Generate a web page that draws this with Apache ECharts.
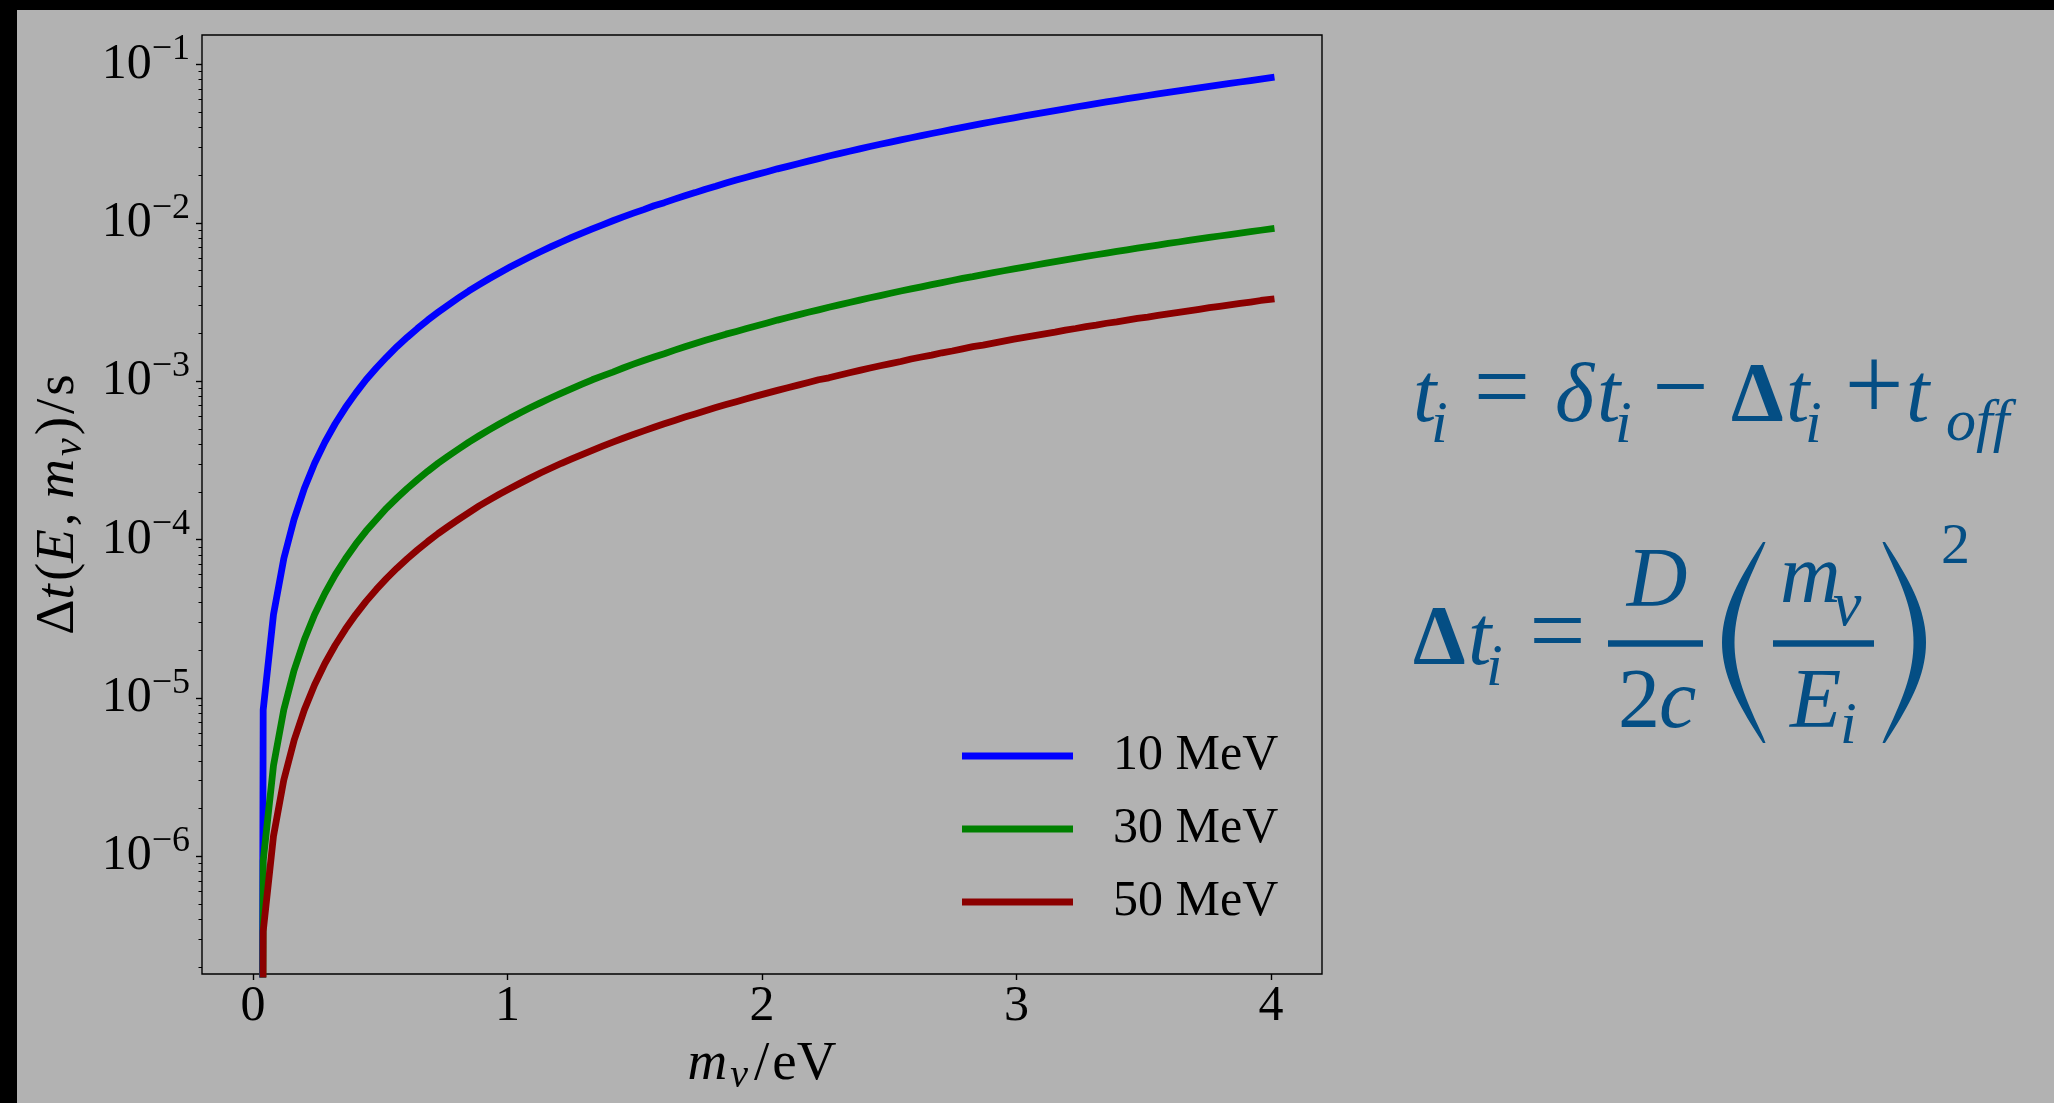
<!DOCTYPE html>
<html>
<head>
<meta charset="utf-8">
<script src="https://cdn.jsdelivr.net/npm/echarts@6.0.0/dist/echarts.min.js"></script>
<style>
  html, body { margin: 0; padding: 0; background: #b2b2b2; }
  #chart { width: 2054px; height: 1103px; }
</style>
</head>
<body>
<div id="chart"></div>
<script>
// Neutrino mass (eV) sampled from 0 to 4
const massEV = [
  0, 0.0404, 0.0808, 0.1212, 0.1616, 0.2020, 0.2424, 0.2828, 0.3232, 0.3636, 0.4040,
  0.4444, 0.4848, 0.5253, 0.5657, 0.6061, 0.6465, 0.6869, 0.7273, 0.7677, 0.8081,
  0.8485, 0.8889, 0.9293, 0.9697, 1.0101, 1.0505, 1.0909, 1.1313, 1.1717, 1.2121,
  1.2525, 1.2929, 1.3333, 1.3737, 1.4141, 1.4545, 1.4949, 1.5354, 1.5758, 1.6162,
  1.6566, 1.6970, 1.7374, 1.7778, 1.8182, 1.8586, 1.8990, 1.9394, 1.9798, 2.0202,
  2.0606, 2.1010, 2.1414, 2.1818, 2.2222, 2.2626, 2.3030, 2.3434, 2.3838, 2.4242,
  2.4646, 2.5051, 2.5455, 2.5859, 2.6263, 2.6667, 2.7071, 2.7475, 2.7879, 2.8283,
  2.8687, 2.9091, 2.9495, 2.9899, 3.0303, 3.0707, 3.1111, 3.1515, 3.1919, 3.2323,
  3.2727, 3.3131, 3.3535, 3.3939, 3.4343, 3.4747, 3.5152, 3.5556, 3.5960, 3.6364,
  3.6768, 3.7172, 3.7576, 3.7980, 3.8384, 3.8788, 3.9192, 3.9596, 4.0000
];

// Time delay Δt (s) for E = 10 MeV
const dt10MeV = [
  0, 8.40e-6, 3.36e-5, 7.56e-5, 1.34e-4, 2.10e-4, 3.03e-4, 4.12e-4, 5.38e-4, 6.81e-4, 8.40e-4,
  1.02e-3, 1.21e-3, 1.42e-3, 1.65e-3, 1.89e-3, 2.15e-3, 2.43e-3, 2.72e-3, 3.03e-3, 3.36e-3,
  3.71e-3, 4.07e-3, 4.45e-3, 4.84e-3, 5.25e-3, 5.68e-3, 6.13e-3, 6.59e-3, 7.07e-3, 7.56e-3,
  8.08e-3, 8.60e-3, 9.15e-3, 9.71e-3, 1.03e-2, 1.09e-2, 1.15e-2, 1.21e-2, 1.28e-2, 1.34e-2,
  1.41e-2, 1.48e-2, 1.55e-2, 1.63e-2, 1.70e-2, 1.78e-2, 1.86e-2, 1.94e-2, 2.02e-2, 2.10e-2,
  2.19e-2, 2.27e-2, 2.36e-2, 2.45e-2, 2.54e-2, 2.64e-2, 2.73e-2, 2.83e-2, 2.93e-2, 3.03e-2,
  3.13e-2, 3.23e-2, 3.34e-2, 3.44e-2, 3.55e-2, 3.66e-2, 3.77e-2, 3.89e-2, 4.00e-2, 4.12e-2,
  4.24e-2, 4.36e-2, 4.48e-2, 4.60e-2, 4.73e-2, 4.85e-2, 4.98e-2, 5.11e-2, 5.24e-2, 5.38e-2,
  5.51e-2, 5.65e-2, 5.79e-2, 5.93e-2, 6.07e-2, 6.21e-2, 6.36e-2, 6.51e-2, 6.66e-2, 6.81e-2,
  6.96e-2, 7.11e-2, 7.27e-2, 7.42e-2, 7.58e-2, 7.74e-2, 7.91e-2, 8.07e-2, 8.24e-2
];

// Time delay Δt (s) for E = 30 MeV
const dt30MeV = [
  0, 9.34e-7, 3.73e-6, 8.40e-6, 1.49e-5, 2.33e-5, 3.36e-5, 4.57e-5, 5.98e-5, 7.56e-5, 9.34e-5,
  1.13e-4, 1.34e-4, 1.58e-4, 1.83e-4, 2.10e-4, 2.39e-4, 2.70e-4, 3.03e-4, 3.37e-4, 3.73e-4,
  4.12e-4, 4.52e-4, 4.94e-4, 5.38e-4, 5.84e-4, 6.31e-4, 6.81e-4, 7.32e-4, 7.85e-4, 8.40e-4,
  8.97e-4, 9.56e-4, 1.02e-3, 1.08e-3, 1.14e-3, 1.21e-3, 1.28e-3, 1.35e-3, 1.42e-3, 1.49e-3,
  1.57e-3, 1.65e-3, 1.73e-3, 1.81e-3, 1.89e-3, 1.98e-3, 2.06e-3, 2.15e-3, 2.24e-3, 2.33e-3,
  2.43e-3, 2.52e-3, 2.62e-3, 2.72e-3, 2.82e-3, 2.93e-3, 3.03e-3, 3.14e-3, 3.25e-3, 3.36e-3,
  3.47e-3, 3.59e-3, 3.71e-3, 3.82e-3, 3.94e-3, 4.07e-3, 4.19e-3, 4.32e-3, 4.45e-3, 4.57e-3,
  4.71e-3, 4.84e-3, 4.98e-3, 5.11e-3, 5.25e-3, 5.39e-3, 5.54e-3, 5.68e-3, 5.83e-3, 5.98e-3,
  6.13e-3, 6.28e-3, 6.43e-3, 6.59e-3, 6.75e-3, 6.91e-3, 7.07e-3, 7.23e-3, 7.40e-3, 7.56e-3,
  7.73e-3, 7.90e-3, 8.08e-3, 8.25e-3, 8.43e-3, 8.60e-3, 8.78e-3, 8.97e-3, 9.15e-3
];

// Time delay Δt (s) for E = 50 MeV
const dt50MeV = [
  0, 3.36e-7, 1.34e-6, 3.03e-6, 5.38e-6, 8.40e-6, 1.21e-5, 1.65e-5, 2.15e-5, 2.72e-5, 3.36e-5,
  4.07e-5, 4.84e-5, 5.68e-5, 6.59e-5, 7.56e-5, 8.60e-5, 9.71e-5, 1.09e-4, 1.21e-4, 1.34e-4,
  1.48e-4, 1.63e-4, 1.78e-4, 1.94e-4, 2.10e-4, 2.27e-4, 2.45e-4, 2.64e-4, 2.83e-4, 3.03e-4,
  3.23e-4, 3.44e-4, 3.66e-4, 3.89e-4, 4.12e-4, 4.36e-4, 4.60e-4, 4.85e-4, 5.11e-4, 5.38e-4,
  5.65e-4, 5.93e-4, 6.21e-4, 6.51e-4, 6.81e-4, 7.11e-4, 7.42e-4, 7.74e-4, 8.07e-4, 8.40e-4,
  8.74e-4, 9.09e-4, 9.44e-4, 9.80e-4, 1.02e-3, 1.05e-3, 1.09e-3, 1.13e-3, 1.17e-3, 1.21e-3,
  1.25e-3, 1.29e-3, 1.33e-3, 1.38e-3, 1.42e-3, 1.46e-3, 1.51e-3, 1.55e-3, 1.60e-3, 1.65e-3,
  1.69e-3, 1.74e-3, 1.79e-3, 1.84e-3, 1.89e-3, 1.94e-3, 1.99e-3, 2.04e-3, 2.10e-3, 2.15e-3,
  2.21e-3, 2.26e-3, 2.32e-3, 2.37e-3, 2.43e-3, 2.49e-3, 2.54e-3, 2.60e-3, 2.66e-3, 2.72e-3,
  2.78e-3, 2.84e-3, 2.91e-3, 2.97e-3, 3.03e-3, 3.10e-3, 3.16e-3, 3.23e-3, 3.29e-3
];

const seriesNames = ['10 MeV', '30 MeV', '50 MeV'];
const seriesValues = [dt10MeV, dt30MeV, dt50MeV];
const seriesColors = ['#0000ff', '#008000', '#8b0000'];

const xTicks = [0, 1, 2, 3, 4];
const yMajorTicks = [1e-6, 1e-5, 1e-4, 1e-3, 1e-2, 1e-1];
const yMinorMultipliers = [2, 3, 4, 5, 6, 7, 8, 9];
const yMinorDecades = [1e-7, 1e-6, 1e-5, 1e-4, 1e-3, 1e-2, 1e-1];

const X_MIN = -0.2, X_MAX = 4.2;
const Y_MIN = 1.806e-7, Y_MAX = 0.1533;

const yMinorTicks = [];
yMinorDecades.forEach(d => yMinorMultipliers.forEach(m => yMinorTicks.push(m * d)));

// non-positive values are pushed far below the axis, as a log plot clips them
const LOG_FLOOR = 1e-30;
const toLog = v => (v > 0 ? v : LOG_FLOOR);

const SERIF = 'Liberation Serif';
const INK = '#000';
const EQ = '#044e84';

const chart = echarts.init(document.getElementById('chart'), null, { renderer: 'canvas' });

// ---- equation helpers (annotation on the right) ----
const MID = 0.26; // baseline offset of a 'middle'-aligned line, as a share of font size
function eqText(str, x, baseline, size, opt) {
  opt = opt || {};
  const font = (opt.italic ? 'italic ' : 'normal ') + (opt.bold ? 'bold ' : 'normal ') + size + 'px "' + SERIF + '"';
  return {
    type: 'text', x: x, y: baseline - MID * size, z: 100, silent: true,
    style: {
      text: str, font: font, fill: EQ,
      align: opt.align || 'left', verticalAlign: 'middle',
      textAlign: opt.align || 'left', textVerticalAlign: 'middle'
    }
  };
}
function eqOp(str, cx, cy, size) {
  return {
    type: 'text', x: cx, y: cy - 0.05 * size, z: 100, silent: true,
    style: {
      text: str, font: 'normal normal ' + size + 'px "' + SERIF + '"', fill: EQ,
      align: 'center', verticalAlign: 'middle', textAlign: 'center', textVerticalAlign: 'middle'
    }
  };
}
function eqBar(x1, x2, cy, th) {
  return { type: 'rect', z: 100, silent: true, shape: { x: x1, y: cy - th / 2, width: x2 - x1, height: th }, style: { fill: EQ } };
}
// a tall parenthesis as a crescent; dir = -1 bulges left "(", +1 bulges right ")"
function eqParen(tipX, top, bottom, bulge, dir) {
  const pts = [];
  const n = 40;
  const h = bottom - top;
  for (let i = 0; i <= n; i++) {
    const t = i / n, s = Math.sin(Math.PI * t);
    pts.push([tipX + dir * bulge * s, top + h * t]);
  }
  for (let i = n; i >= 0; i--) {
    const t = i / n, s = Math.sin(Math.PI * t);
    const th = 2.5 + 10 * Math.pow(s, 0.8);
    pts.push([tipX + dir * (bulge * s - th), top + h * t]);
  }
  return { type: 'polygon', z: 100, silent: true, shape: { points: pts }, style: { fill: EQ } };
}

const F = 84, FS = 60;
const equation = [
  // t_i = δt_i − Δt_i + t_off
  eqText('t', 1413, 421, F, { italic: true }),
  eqText('i', 1431, 442, FS, { italic: true }),
  eqOp('=', 1502, 398.5, 100),
  eqText('δ', 1555, 421, F, { italic: true }),
  eqText('t', 1597, 421, F, { italic: true }),
  eqText('i', 1615, 442, FS, { italic: true }),
  eqOp('−', 1680.5, 399, 100),
  eqText('Δ', 1731, 421, F, { bold: true }),
  eqText('t', 1786, 421, F, { italic: true }),
  eqText('i', 1805, 442, FS, { italic: true }),
  eqOp('+', 1874, 398, 105),
  eqText('t', 1906, 421, F, { italic: true }),
  eqText('off', 1946, 440, FS, { italic: true }),

  // Δt_i = D/2c (m_ν / E_i)^2
  eqText('Δ', 1413, 664, F, { bold: true }),
  eqText('t', 1468, 664, F, { italic: true }),
  eqText('i', 1486, 685, FS, { italic: true }),
  eqOp('=', 1557.5, 643, 100),
  eqText('D', 1657, 606, F, { italic: true, align: 'center' }),
  eqBar(1608, 1703, 643.5, 6.5),
  eqText('2', 1618, 727, F),
  eqText('c', 1659, 727, F, { italic: true }),
  eqParen(1763, 542, 743, 41, -1),
  eqText('m', 1780, 602, F, { italic: true }),
  eqText('ν', 1833, 625, 64, { italic: true }),
  eqBar(1773, 1874, 643.5, 6.5),
  eqText('E', 1790, 727, F, { italic: true }),
  eqText('i', 1840, 743, FS, { italic: true }),
  eqParen(1885, 542, 743, 41, 1),
  eqText('2', 1941, 563, 58)
];

const frame = [
  { type: 'rect', z: 200, silent: true, shape: { x: 0, y: 0, width: 2054, height: 10 }, style: { fill: '#000' } },
  { type: 'rect', z: 200, silent: true, shape: { x: 0, y: 0, width: 17, height: 1103 }, style: { fill: '#000' } }
];

const labelRich = {
  b: { fontSize: 50, fontFamily: SERIF, color: INK },
  s: { fontSize: 36, fontFamily: SERIF, color: INK, padding: [0, 0, 29, 0] }
};

const NAME_F = 55;
const nameRich = {
  up: { fontSize: NAME_F, fontFamily: SERIF, color: INK },
  upw: { fontSize: NAME_F, fontFamily: SERIF, color: INK, padding: [0, 3, 0, 3] },
  it: { fontSize: NAME_F, fontFamily: SERIF, color: INK, fontStyle: 'italic', padding: [0, 3, 0, 0] },
  sub: { fontSize: 40, fontFamily: SERIF, color: INK, fontStyle: 'italic', padding: [24, 3, 0, 0] }
};

const option = {
  animation: false,
  backgroundColor: '#b2b2b2',
  grid: {
    left: 202, top: 35, width: 1120, height: 939,
    show: true, borderColor: '#000', borderWidth: 1.4, backgroundColor: 'transparent'
  },
  xAxis: {
    type: 'value', min: X_MIN, max: X_MAX,
    axisLine: { show: false, onZero: false },
    splitLine: { show: false },
    axisTick: { show: true, customValues: xTicks, length: 6, lineStyle: { color: INK, width: 1.4 } },
    axisLabel: { customValues: xTicks, margin: 8, fontSize: 50, fontFamily: SERIF, color: INK },
    name: '{it|m}{sub|ν}{upw|/}{up|eV}',
    nameLocation: 'middle', nameGap: 56,
    nameTextStyle: { fontSize: NAME_F, fontFamily: SERIF, color: INK, rich: nameRich }
  },
  yAxis: [
    {
      type: 'log', logBase: 10, min: Y_MIN, max: Y_MAX,
      axisLine: { show: false, onZero: false },
      splitLine: { show: false },
      axisTick: { show: true, customValues: yMajorTicks, length: 6, lineStyle: { color: INK, width: 1.4 } },
      axisLabel: {
        customValues: yMajorTicks, margin: 12,
        formatter: v => '{b|10}{s|−' + (-Math.round(Math.log10(v))) + '}',
        rich: labelRich
      },
      name: '{up|Δ}{it|t}{up|(}{it|E}{up|, }{it|m}{sub|ν}{up|)}{upw|/}{up|s}',
      nameLocation: 'middle', nameGap: 108, nameRotate: 90,
      nameTextStyle: { fontSize: NAME_F, fontFamily: SERIF, color: INK, rich: nameRich }
    },
    {
      type: 'log', logBase: 10, min: Y_MIN, max: Y_MAX, position: 'left', offset: 0,
      axisLine: { show: false, onZero: false },
      splitLine: { show: false },
      axisLabel: { show: false },
      axisTick: { show: true, customValues: yMinorTicks, length: 3.5, lineStyle: { color: INK, width: 1 } }
    }
  ],
  legend: {
    orient: 'vertical', left: 962, top: 731, padding: 0,
    itemWidth: 111, itemHeight: 7, itemGap: 23, icon: 'rect',
    selectedMode: false,
    textStyle: { fontSize: 50, fontFamily: SERIF, color: INK, lineHeight: 50, padding: [0, 0, 0, 35] },
    data: seriesNames
  },
  series: seriesNames.map((name, i) => ({
    name: name,
    type: 'line',
    xAxisIndex: 0, yAxisIndex: 0,
    data: massEV.map((m, k) => [m, toLog(seriesValues[i][k])]),
    showSymbol: false, symbol: 'none',
    clip: true, z: 2 + i,
    color: seriesColors[i],
    lineStyle: { color: seriesColors[i], width: 6.8, cap: 'square', join: 'round' },
    emphasis: { disabled: true }
  })),
  graphic: { elements: frame.concat(equation) }
};

chart.setOption(option);
</script>
</body>
</html>
